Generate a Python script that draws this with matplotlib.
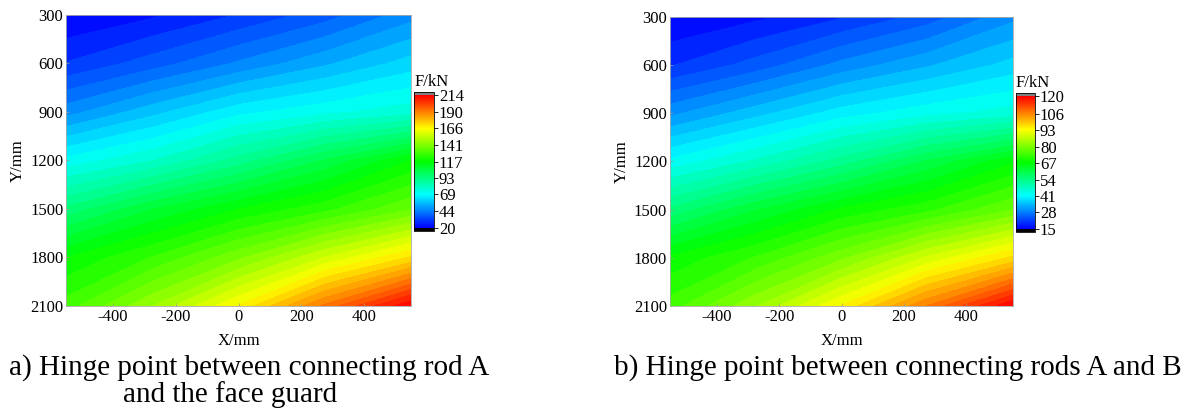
import matplotlib
matplotlib.use("Agg")
import matplotlib.pyplot as plt
import numpy as np
from matplotlib.colors import LinearSegmentedColormap, Normalize
from matplotlib.cm import ScalarMappable

plt.rcParams["font.family"] = ["Liberation Serif", "DejaVu Serif"]
plt.rcParams["axes.unicode_minus"] = False

x_mm = [-550, -275, 0, 275, 550]
y_mm = [300, 600, 900, 1200, 1500, 1800, 2100]

# a) connecting rod A / face guard hinge, F in kN (rows = y, cols = x)
force_a = [
    [20, 24, 30, 37, 47],
    [30, 37, 45, 53, 61],
    [47, 57, 67, 72, 76],
    [70, 78, 90, 103, 117],
    [94, 107, 117, 125, 136],
    [117, 127, 140, 156, 171],
    [129, 146, 166, 191, 214],
]
# b) connecting rods A and B hinge
force_b = [
    [15, 17, 20, 24, 30],
    [20, 24, 29, 33, 37],
    [30, 35, 40, 43, 45],
    [42, 47, 53, 60, 67],
    [55, 62, 68, 72, 78],
    [68, 73, 80, 89, 97],
    [74, 83, 94, 107, 120],
]

range_a = (20, 214)
range_b = (15, 120)
cbar_ticks_a = [20, 44, 69, 93, 117, 141, 166, 190, 214]
cbar_ticks_b = [15, 28, 41, 54, 67, 80, 93, 106, 120]

cmap = LinearSegmentedColormap.from_list(
    "rainbow5", ["#0000ff", "#00ffff", "#00ff00", "#ffff00", "#ff0000"]
)
cmap.set_under("black")
cmap.set_over("#808080")

fig = plt.figure(figsize=(11.96, 4.12), dpi=100)

panels = [
    (force_a, range_a, cbar_ticks_a, [0.0552, 0.2573, 0.2885, 0.7063], [0.3462, 0.4393, 0.0167, 0.3374]),
    (force_b, range_b, cbar_ticks_b, [0.5602, 0.2573, 0.2868, 0.7015], [0.8495, 0.4369, 0.0159, 0.3374]),
]

X, Y = np.meshgrid(x_mm, y_mm)
fs = 12
for data, (vmin, vmax), ticks, ax_pos, cb_pos in panels:
    ax = fig.add_axes(ax_pos)
    levels = np.linspace(vmin, vmax, 41)
    ax.contourf(X, Y, np.array(data), levels=levels, cmap=cmap,
                vmin=vmin, vmax=vmax, extend="both")
    ax.set_xlim(-550, 550)
    ax.set_ylim(2100, 300)
    ax.set_xticks([-400, -200, 0, 200, 400])
    ax.set_yticks([300, 600, 900, 1200, 1500, 1800, 2100])
    ax.tick_params(labelsize=fs, direction="in", length=2, width=0.5,
                   color="#999999", pad=2)
    for sp in ax.spines.values():
        sp.set_color("#aaaaaa")
        sp.set_linewidth(0.6)
    ax.set_xlabel("X/mm", fontsize=fs, labelpad=6)
    ax.set_ylabel("Y/mm", fontsize=fs, labelpad=3)

    cax = fig.add_axes(cb_pos)
    sm = ScalarMappable(norm=Normalize(vmin, vmax), cmap=cmap)
    cb = fig.colorbar(sm, cax=cax, extend="both", extendrect=True,
                      extendfrac=0.025, ticks=ticks)
    cb.ax.set_yticklabels([str(t) for t in ticks])
    cb.ax.tick_params(labelsize=fs, length=3, width=0.6, pad=0.5)
    cb.outline.set_linewidth(0.6)
    cax.set_title("F/kN", fontsize=fs, pad=4, loc="left")

cap = 21
fig.text(0.0075, 0.0898, "a) Hinge point between connecting rod A", fontsize=cap, va="baseline", ha="left")
fig.text(0.103, 0.0243, "and the face guard", fontsize=cap, va="baseline", ha="left")
fig.text(0.5135, 0.0898, "b) Hinge point between connecting rods A and B", fontsize=cap, va="baseline", ha="left")

fig.savefig("out.png", dpi=100)
